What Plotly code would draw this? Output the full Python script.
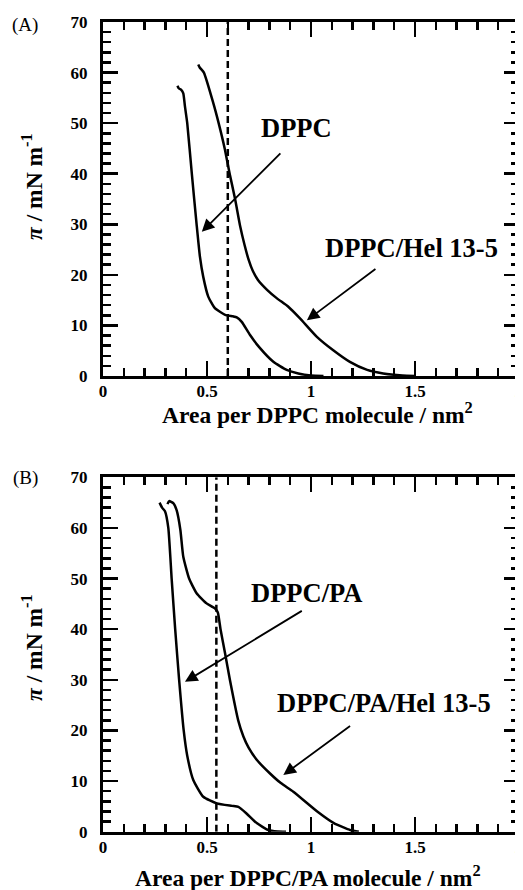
import plotly.graph_objects as go
from plotly.subplots import make_subplots

# (A) DPPC and DPPC/Hel 13-5 isotherms
a_dppc_x = [0.358, 0.364, 0.376, 0.386, 0.394, 0.405, 0.427, 0.45, 0.466, 0.482, 0.506, 0.538,
            0.587, 0.625, 0.643, 0.667, 0.707, 0.755, 0.819, 0.883, 0.939, 1.0, 1.06]
a_dppc_y = [57.4, 56.9, 56.6, 55.9, 53.3, 50.0, 40.0, 30.0, 23.6, 19.6, 15.7, 13.4,
            12.1, 11.8, 11.6, 10.7, 8.1, 5.5, 2.8, 1.2, 0.5, 0.1, 0.0]
a_hel_x = [0.458, 0.465, 0.485, 0.53, 0.556, 0.585, 0.609, 0.635, 0.66, 0.68, 0.70, 0.72,
           0.745, 0.79, 0.835, 0.891, 0.947, 1.027, 1.107, 1.187, 1.27, 1.347, 1.44, 1.5]
a_hel_y = [61.6, 61.0, 60.0, 54.0, 50.0, 45.0, 40.0, 35.0, 29.5, 26.0, 23.0, 20.8,
           19.0, 17.0, 15.4, 13.7, 11.4, 7.8, 5.1, 2.8, 1.2, 0.5, 0.1, 0.0]
a_dash = 0.6

# (B) DPPC/PA and DPPC/PA/Hel 13-5 isotherms
b_pa_x = [0.272, 0.284, 0.298, 0.314, 0.33, 0.347, 0.366, 0.388, 0.405, 0.434, 0.482, 0.547,
          0.62, 0.651, 0.69, 0.739, 0.795, 0.84, 0.88]
b_pa_y = [65.0, 64.0, 63.3, 60.0, 50.0, 40.0, 30.0, 20.0, 15.0, 10.2, 6.9, 5.6,
          5.1, 4.9, 3.6, 1.7, 0.3, 0.05, 0.0]
b_hel_x = [0.31, 0.318, 0.338, 0.354, 0.372, 0.386, 0.414, 0.45, 0.498, 0.538, 0.552, 0.565,
           0.587, 0.61, 0.65, 0.675, 0.70, 0.739, 0.803, 0.855, 0.915, 1.03, 1.11, 1.19, 1.23]
b_hel_y = [64.7, 65.3, 64.9, 63.5, 59.6, 54.3, 50.0, 47.1, 45.1, 44.1, 43.3, 40.0,
           35.2, 30.0, 22.0, 18.8, 16.6, 14.2, 11.5, 9.6, 7.9, 4.0, 1.7, 0.3, 0.0]
b_dash = 0.545

FONT = "Liberation Serif"

# the page body keeps its default 8px margin, so the figure is 8px smaller
# and every pixel position below is measured from (8, 8) of the window
W, H = 515, 882

fig = make_subplots(rows=2, cols=1)

line = dict(color="black", width=2.5, shape="spline", smoothing=0.5)
dash = dict(color="black", width=2.5, dash="7px,4px")

fig.add_trace(go.Scatter(x=a_dppc_x, y=a_dppc_y, mode="lines", line=line), row=1, col=1)
fig.add_trace(go.Scatter(x=a_hel_x, y=a_hel_y, mode="lines", line=line), row=1, col=1)
fig.add_trace(go.Scatter(x=[a_dash, a_dash], y=[0, 70], mode="lines", line=dash), row=1, col=1)
fig.add_trace(go.Scatter(x=b_pa_x, y=b_pa_y, mode="lines", line=line), row=2, col=1)
fig.add_trace(go.Scatter(x=b_hel_x, y=b_hel_y, mode="lines", line=line), row=2, col=1)
fig.add_trace(go.Scatter(x=[b_dash, b_dash], y=[0, 70], mode="lines", line=dash), row=2, col=1)

tickfont = dict(family=FONT, size=17, color="black", weight="bold")
axis_common = dict(showline=True, linewidth=3, linecolor="black", mirror="allticks",
                   ticks="inside", ticklen=15, tickwidth=2.5, tickcolor="black",
                   showgrid=False, zeroline=False, tickfont=tickfont, automargin=False)

xkw = dict(axis_common, range=[0, 2], dtick=0.5, tick0=0, ticklabelstandoff=-2,
           ticklabeloverflow="allow",
           minor=dict(dtick=0.1, ticks="inside", ticklen=8, tickwidth=2.5, tickcolor="black"))
ykw = dict(axis_common, range=[0, 70], dtick=10, tick0=0, ticklabelstandoff=9,
           minor=dict(dtick=2, ticks="inside", ticklen=8, tickwidth=2.5, tickcolor="black"))

xdom = [95 / W, 511 / W]
fig.update_xaxes(xkw, row=1, col=1, domain=xdom)
fig.update_xaxes(xkw, row=2, col=1, domain=xdom)
fig.update_yaxes(ykw, row=1, col=1, domain=[1 - 368 / H, 1 - 14 / H])
fig.update_yaxes(ykw, row=2, col=1, domain=[1 - 823.7 / H, 1 - 469.3 / H])

# axis titles
title_font = dict(family=FONT, size=23.5, color="black")
fig.add_annotation(x=309 / W, y=1 - 405 / H, xref="paper", yref="paper",
                   xanchor="center", yanchor="middle",
                   text="<b>Area per DPPC molecule / nm<sup>2</sup></b>",
                   showarrow=False, font=title_font)
fig.add_annotation(x=300 / W, y=1 - 868 / H, xref="paper", yref="paper",
                   xanchor="center", yanchor="middle",
                   text="<b>Area per DPPC/PA molecule / nm<sup>2</sup></b>",
                   showarrow=False, font=title_font)
for yc in [1 - 179 / H, 1 - 640 / H]:
    fig.add_annotation(x=24 / W, y=yc, xref="paper", yref="paper", textangle=-90,
                       xanchor="center", yanchor="middle",
                       text="<b><i>π</i> / mN m<sup>-1</sup></b>",
                       showarrow=False, font=title_font)

lab = dict(family=FONT, size=26.5, color="black")
notes = [
    ("x", "y", 0.93, 49.0, "DPPC", 0.86, 44.3, 0.475, 28.5),
    ("x", "y", 1.485, 25.3, "DPPC/Hel 13-5", 1.317, 21.4, 0.98, 11.0),
    ("x2", "y2", 0.98, 47.1, "DPPC/PA", 0.963, 43.8, 0.394, 29.6),
    ("x2", "y2", 1.35, 25.4, "DPPC/PA/Hel 13-5", 1.195, 21.1, 0.867, 11.2),
]
for xr, yr, tx, ty, txt, x0, y0, x1, y1 in notes:
    fig.add_annotation(x=tx, y=ty, xref=xr, yref=yr, text="<b>" + txt + "</b>",
                       xanchor="center", yanchor="middle", showarrow=False, font=lab)
    fig.add_annotation(x=x1, y=y1, ax=x0, ay=y0, xref=xr, yref=yr, axref=xr, ayref=yr,
                       text="", showarrow=True, arrowhead=2, arrowsize=1.4, arrowwidth=1.8,
                       arrowcolor="black")

for lbl, ypx in [("(A)", 17), ("(B)", 470)]:
    fig.add_annotation(x=17 / W, y=1 - ypx / H, xref="paper", yref="paper", text=lbl,
                       xanchor="center", yanchor="middle", showarrow=False,
                       font=dict(family=FONT, size=19, color="black"))

fig.update_layout(width=W, height=H, margin=dict(l=0, r=0, t=0, b=0),
                  showlegend=False, plot_bgcolor="white", paper_bgcolor="white",
                  hovermode=False, dragmode=False)

fig.write_html("out.html", config={"displayModeBar": False, "staticPlot": True})
